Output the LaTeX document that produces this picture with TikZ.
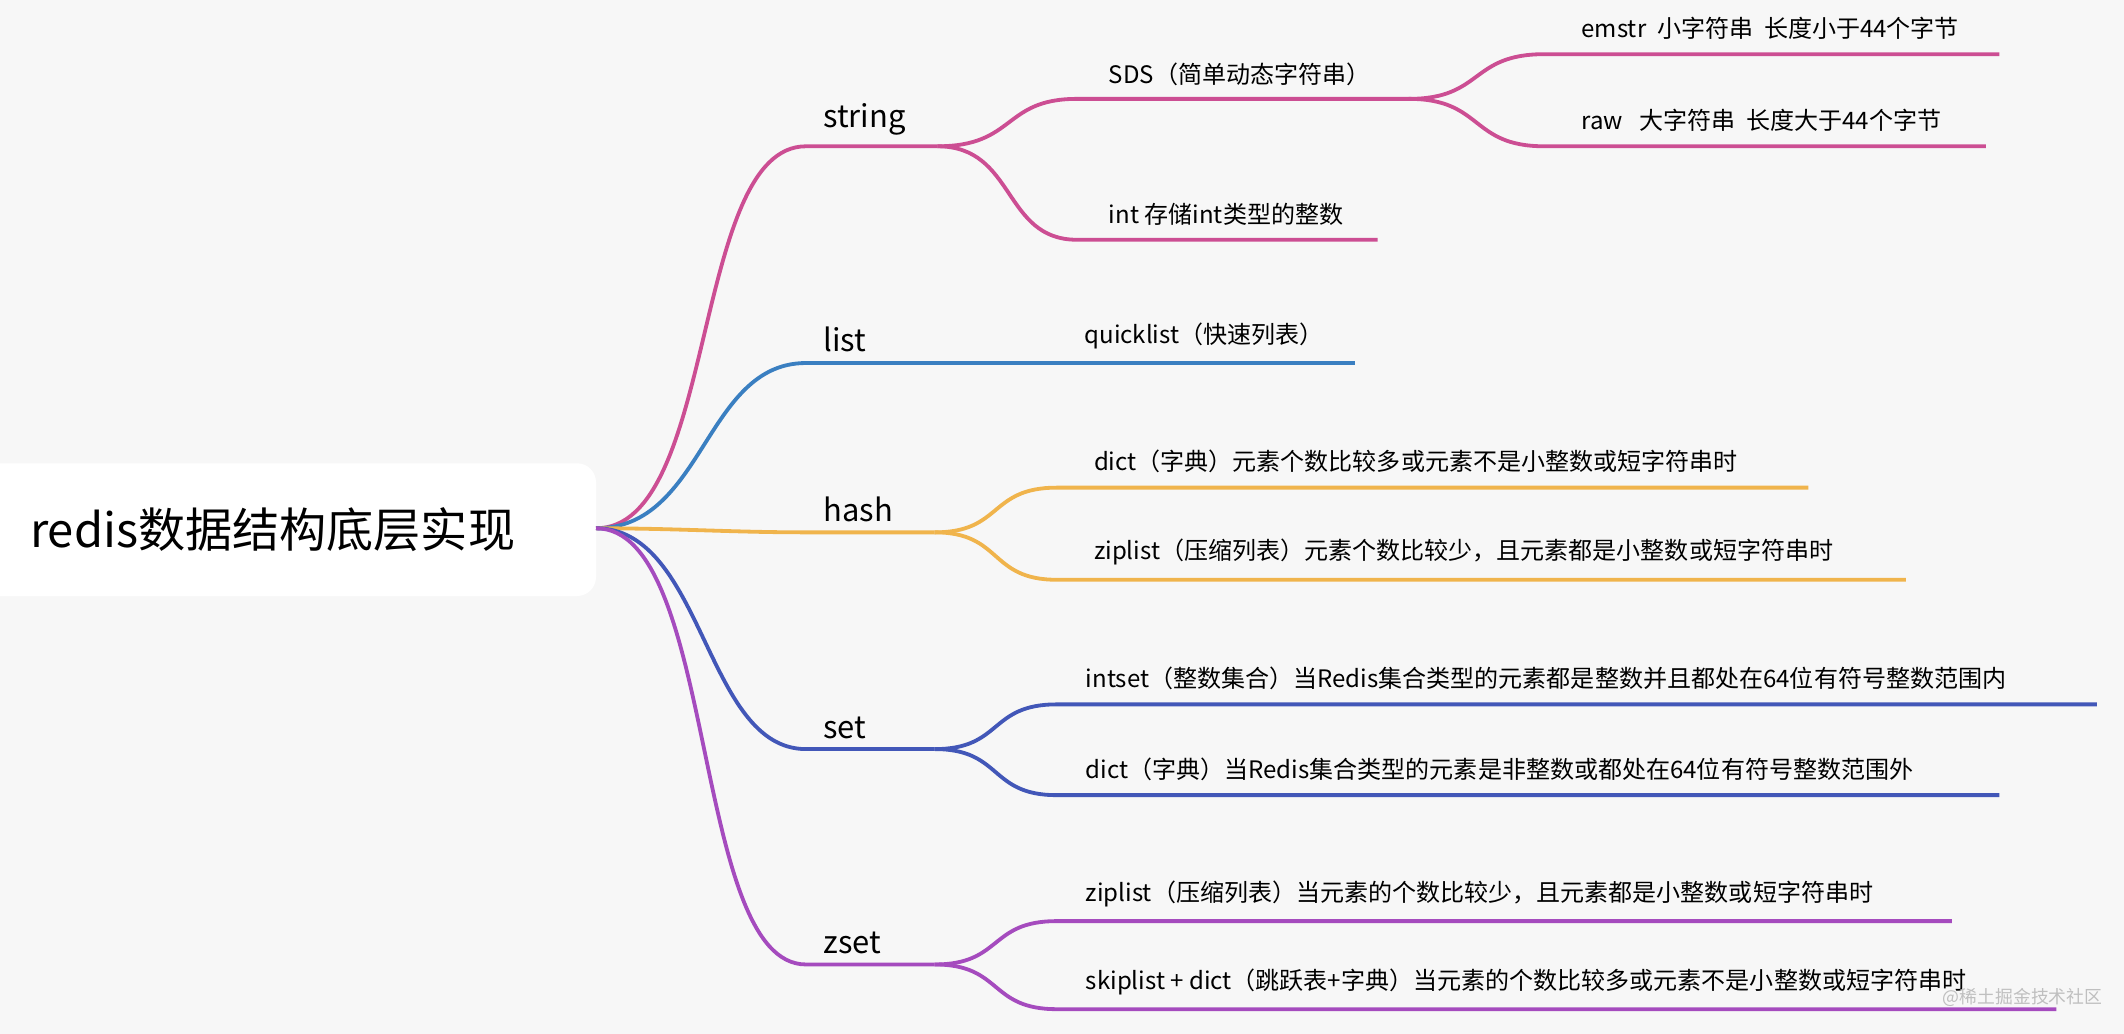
\documentclass[tikz,border=0pt]{standalone}
\usepackage{fontspec}
\setmainfont{Noto Sans CJK SC}
\definecolor{bgc}{HTML}{F7F7F7}
\definecolor{cstr}{HTML}{CC4E93}
\definecolor{clist}{HTML}{3A7FC1}
\definecolor{chash}{HTML}{F0B44C}
\definecolor{cset}{HTML}{4257B8}
\definecolor{czset}{HTML}{A54BBE}
\begin{document}
\begin{tikzpicture}[x=0.02cm,y=-0.02cm,
  br/.style={line width=1.6pt},
  lv1/.style={anchor=south west,inner sep=2pt,font=\fontsize{13}{14}\selectfont},
  lv2/.style={anchor=south west,inner sep=3pt,font=\fontsize{10.1}{11}\selectfont}]
  \fill[bgc] (0,0) rectangle (1568,763);
  \useasboundingbox (0,0) rectangle (1568,763);

  % root
  \fill[white,rounded corners=8pt] (-20,342) rectangle (440,440);
  \node[anchor=west,font=\fontsize{19.8}{21}\selectfont] (root) at (16,391) {redis数据结构底层实现};
  \coordinate (r) at (440,390);

  % level 1
  \coordinate (s0) at (595,108); \coordinate (s1) at (692,108);
  \coordinate (l0) at (595,268); \coordinate (l1) at (675,268);
  \coordinate (h0) at (595,393); \coordinate (h1) at (690,393);
  \coordinate (t0) at (595,553); \coordinate (t1) at (690,553);
  \coordinate (z0) at (595,712); \coordinate (z1) at (690,712);
  \node[lv1] (string) at (604,104) {string};
  \node[lv1] (list) at (604,264) {list};
  \node[lv1] (hash) at (604,389) {hash};
  \node[lv1] (set) at (604,549) {set};
  \node[lv1] (zset) at (604,708) {zset};

  \draw[br,cstr] (r) .. controls (530,390) and (510,108) .. (s0) -- (s1);
  \draw[br,clist] (r) .. controls (520,390) and (520,268) .. (l0) -- (l1);
  \draw[br,chash] (r) .. controls (500,390) and (540,393) .. (h0) -- (h1);
  \draw[br,cset] (r) .. controls (520,390) and (520,553) .. (t0) -- (t1);
  \draw[br,czset] (r) .. controls (530,390) and (510,712) .. (z0) -- (z1);

  % string
  \coordinate (sds0) at (795,73); \coordinate (sds1) at (1040,73);
  \coordinate (em1) at (1140,40); \coordinate (em2) at (1476,40);
  \coordinate (raw1) at (1140,108); \coordinate (raw2) at (1466,108);
  \coordinate (int0) at (795,177); \coordinate (int1) at (1017,177);
  \node[lv2] (sds) at (813,69) {SDS（简单动态字符串）};
  \node[lv2] (emstr) at (1162,35) {emstr\ \ 小字符串\ \ 长度小于44个字节};
  \node[lv2] (raw) at (1162,103) {raw\ \ \ 大字符串\ \ 长度大于44个字节};
  \node[lv2] (int) at (813,172) {int 存储int类型的整数};
  \draw[br,cstr] (s1) .. controls (750,108) and (740,73) .. (sds0) -- (sds1);
  \draw[br,cstr] (sds1) .. controls (1095,73) and (1085,40) .. (em1) -- (em2);
  \draw[br,cstr] (sds1) .. controls (1095,73) and (1085,108) .. (raw1) -- (raw2);
  \draw[br,cstr] (s1) .. controls (750,108) and (740,177) .. (int0) -- (int1);

  % list
  \coordinate (q1) at (1000,268);
  \node[lv2] (quick) at (795,263) {quicklist（快速列表）};
  \draw[br,clist] (l1) -- (q1);

  % hash
  \coordinate (hd0) at (780,360); \coordinate (hd1) at (1335,360);
  \coordinate (hz0) at (780,428); \coordinate (hz1) at (1407,428);
  \node[lv2] (hdict) at (802,355) {dict（字典）元素个数比较多或元素不是小整数或短字符串时};
  \node[lv2] (hzip) at (802,423) {ziplist（压缩列表）元素个数比较少，且元素都是小整数或短字符串时};
  \draw[br,chash] (h1) .. controls (740,393) and (730,360) .. (hd0) -- (hd1);
  \draw[br,chash] (h1) .. controls (740,393) and (730,428) .. (hz0) -- (hz1);

  % set
  \coordinate (ti0) at (780,520); \coordinate (ti1) at (1548,520);
  \coordinate (td0) at (780,587); \coordinate (td1) at (1476,587);
  \node[lv2] (intset) at (796,515) {intset（整数集合）当Redis集合类型的元素都是整数并且都处在64位有符号整数范围内};
  \node[lv2] (sdict) at (796,582) {dict（字典）当Redis集合类型的元素是非整数或都处在64位有符号整数范围外};
  \draw[br,cset] (t1) .. controls (740,553) and (730,520) .. (ti0) -- (ti1);
  \draw[br,cset] (t1) .. controls (740,553) and (730,587) .. (td0) -- (td1);

  % zset
  \coordinate (zz0) at (780,680); \coordinate (zz1) at (1441,680);
  \coordinate (zk0) at (780,745); \coordinate (zk1) at (1518,745);
  \node[lv2] (zzip) at (796,675) {ziplist（压缩列表）当元素的个数比较少，且元素都是小整数或短字符串时};
  \node[lv2] (zskip) at (796,740) {skiplist + dict（跳跃表+字典）当元素的个数比较多或元素不是小整数或短字符串时};
  \draw[br,czset] (z1) .. controls (740,712) and (730,680) .. (zz0) -- (zz1);
  \draw[br,czset] (z1) .. controls (740,712) and (730,745) .. (zk0) -- (zk1);

  \node[anchor=west,text=black!25,font=\fontsize{7.5}{9}\selectfont] (wm) at (1428,736) {@稀土掘金技术社区};
\end{tikzpicture}
\end{document}
